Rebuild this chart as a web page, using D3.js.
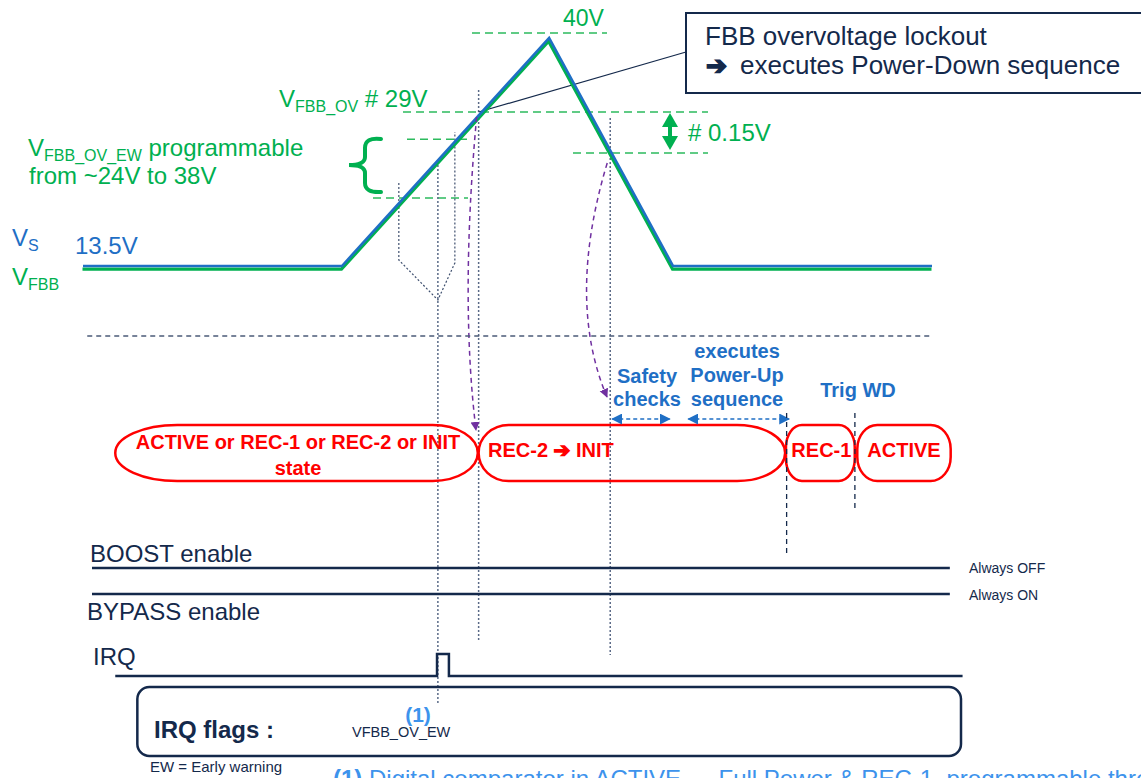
<!DOCTYPE html>
<html><head><meta charset="utf-8">
<script src="https://cdn.jsdelivr.net/npm/d3@7"></script>
<style>
body{margin:0;background:#fff;overflow:hidden}
svg{display:block}
text{font-family:"Liberation Sans",Arial,Helvetica,sans-serif}
</style>
</head><body>
<svg id="c" width="1141" height="778"></svg>
<script>
// ---------------- DATA ----------------
const waveTimes = [0, 30.5, 54.9, 69.5, 100];
const vsVolts   = [13.5, 13.5, 40, 13.5, 13.5];
const vfbbVolts = [13.5, 13.5, 40, 13.5, 13.5];

const levelNames = ["VS nominal", "EW low", "OV release", "EW high", "OV", "Peak"];
const levelVolts = [13.5, 24, 28.85, 28.9, 29, 40];

const eventNames = ["EW window start", "EW IRQ", "IRQ end", "EW window end", "OV trip",
                    "OV release", "Safety checks end", "Power-Up start", "REC-1 start", "ACTIVE start"];
const eventTimes = [37.2, 41.8, 43.1, 43.8, 46.6, 62.1, 69.1, 71.3, 82.7, 90.8];

const stateNames = ["ACTIVE or REC-1 or REC-2 or INIT", "REC-2 ➔ INIT", "REC-1", "ACTIVE"];
const stateStart = [3.8, 46.6, 82.8, 91.2];
const stateEnd   = [46.5, 82.7, 90.9, 102.2];

const signalNames = ["BOOST enable", "BYPASS enable", "IRQ"];
const signalNotes = ["Always OFF", "Always ON", ""];

// ---------------- SCALES ----------------
const svg = d3.select("#c");
const x = d3.scaleLinear().domain([0, 100]).range([83, 932]);
const lv = n => levelVolts[levelNames.indexOf(n)];
const yV = d3.scaleLinear()
  .domain([lv("VS nominal"), lv("EW low"), lv("OV release"), lv("OV"), lv("Peak")])
  .range([266, 198, 153, 112, 38]);
const ev = n => eventTimes[eventNames.indexOf(n)];

const NAVY = "#14294b", GREEN = "#00b050", GDASH = "#2dbb5e", BLUE = "#1f6fc5",
      RED = "#ff0000", PURPLE = "#7030a0", DOT = "#5a6a87", LBLUE = "#3d93ec";

// markers
const defs = svg.append("defs");
function marker(id, color, w, h) {
  defs.append("marker").attr("id", id).attr("viewBox", "0 0 10 10")
    .attr("refX", 9).attr("refY", 5).attr("markerUnits", "userSpaceOnUse")
    .attr("markerWidth", w).attr("markerHeight", h).attr("orient", "auto-start-reverse")
    .append("path").attr("d", "M0,0L10,5L0,10Z").attr("fill", color);
}
marker("mP", PURPLE, 9, 11);
marker("mB", BLUE, 11, 11);

// ---------------- VOLTAGE SECTION ----------------
const thr = [
  {n: "Peak", x0: 472, x1: 607, off: -5},
  {n: "OV", x0: 403, x1: 708, off: 0},
  {n: "EW high", x0: 407, x1: 468, off: 0},
  {n: "EW low", x0: 373, x1: 468, off: 0},
  {n: "OV release", x0: 573, x1: 708, off: 0}
];
svg.append("g").selectAll("line").data(thr).join("line")
  .attr("x1", d => d.x0).attr("x2", d => d.x1)
  .attr("y1", d => yV(lv(d.n)) + d.off).attr("y2", d => yV(lv(d.n)) + d.off)
  .attr("stroke", GDASH).attr("stroke-width", 1.5).attr("stroke-dasharray", "8,5");

const vlines = [
  {n: "EW IRQ", y0: 165, y1: 703},
  {n: "OV trip", y0: 90, y1: 642},
  {n: "OV release", y0: 118, y1: 655}
];
svg.append("g").selectAll("line").data(vlines).join("line")
  .attr("x1", d => x(ev(d.n))).attr("x2", d => x(ev(d.n)))
  .attr("y1", d => d.y0).attr("y2", d => d.y1)
  .attr("stroke", DOT).attr("stroke-width", 1.5).attr("stroke-dasharray", "2,2");

const apex = [x(ev("EW IRQ")), 300];
svg.append("path")
  .attr("d", `M${x(ev("EW window start"))},183 L${x(ev("EW window start"))},260 L${apex[0]},${apex[1]} L${x(ev("EW window end"))},263 L${x(ev("EW window end"))},132`)
  .attr("fill", "none").attr("stroke", "#3e4f6e").attr("stroke-width", 1.2).attr("stroke-dasharray", "2,2");

svg.append("line").attr("x1", x(ev("OV trip"))).attr("y1", yV(lv("OV")))
  .attr("x2", 686).attr("y2", 52).attr("stroke", NAVY).attr("stroke-width", 1.2);

// waveforms
const line = d3.line().x(d => x(d[0])).y(d => yV(d[1]));
svg.append("path").datum(waveTimes.map((t, i) => [t, vfbbVolts[i]]))
  .attr("d", line).attr("transform", "translate(-0.5,3.2)")
  .attr("fill", "none").attr("stroke", GREEN).attr("stroke-width", 3.2);
svg.append("path").datum(waveTimes.map((t, i) => [t, vsVolts[i]]))
  .attr("d", line)
  .attr("fill", "none").attr("stroke", BLUE).attr("stroke-width", 2.6);

// purple dashed curved arrows
svg.append("path").attr("d", `M${x(ev("OV trip")) - 2},117 Q460,300 476,430`)
  .attr("fill", "none").attr("stroke", PURPLE).attr("stroke-width", 1.5)
  .attr("stroke-dasharray", "5,4").attr("marker-end", "url(#mP)");
svg.append("path").attr("d", `M${x(ev("OV release")) - 3},163 Q566,300 607,397`)
  .attr("fill", "none").attr("stroke", PURPLE).attr("stroke-width", 1.5)
  .attr("stroke-dasharray", "5,4").attr("marker-end", "url(#mP)");

// green brace
svg.append("path")
  .attr("d", "M381,139 Q365,137 365,148 L365,157 Q365,165 349,165 Q365,165 365,173 L365,183 Q365,193 381,192")
  .attr("fill", "none").attr("stroke", GREEN).attr("stroke-width", 4).attr("stroke-linecap", "round");

// green hysteresis double arrow
const ax = 670, aTop = yV(lv("OV")) + 1, aBot = yV(lv("OV release")) - 3;
svg.append("line").attr("x1", ax).attr("x2", ax).attr("y1", aTop + 8).attr("y2", aBot - 8)
  .attr("stroke", GREEN).attr("stroke-width", 4);
svg.append("path").attr("d", `M${ax},${aTop} L${ax + 8},${aTop + 14} L${ax - 8},${aTop + 14}Z`).attr("fill", GREEN);
svg.append("path").attr("d", `M${ax},${aBot} L${ax + 8},${aBot - 14} L${ax - 8},${aBot - 14}Z`).attr("fill", GREEN);

function sub(x0, y0, main, subTxt, rest, color, fs, sfs) {
  const t = svg.append("text").attr("x", x0).attr("y", y0).attr("fill", color).attr("font-size", fs);
  t.append("tspan").text(main);
  t.append("tspan").attr("font-size", sfs).attr("dy", 5).text(subTxt);
  if (rest) t.append("tspan").attr("dy", -5).text(rest);
  return t;
}
svg.append("text").attr("x", 563).attr("y", 26).attr("fill", GREEN).attr("font-size", 23).text("40V");
sub(279, 107, "V", "FBB_OV", " # 29V", GREEN, 24, 16);
sub(28, 156, "V", "FBB_OV_EW", " programmable", GREEN, 24, 16);
svg.append("text").attr("x", 29).attr("y", 184).attr("fill", GREEN).attr("font-size", 24).text("from ~24V to 38V");
sub(12, 246, "V", "S", null, BLUE, 24, 16);
svg.append("text").attr("x", 75).attr("y", 254).attr("fill", BLUE).attr("font-size", 24).text("13.5V");
sub(12, 285, "V", "FBB", null, GREEN, 24, 16);
svg.append("text").attr("x", 688).attr("y", 141).attr("fill", GREEN).attr("font-size", 24).text("# 0.15V");

// box top right
svg.append("rect").attr("x", 686).attr("y", 13).attr("width", 480).attr("height", 80)
  .attr("fill", "#fff").attr("stroke", NAVY).attr("stroke-width", 2);
svg.append("text").attr("x", 705).attr("y", 45).attr("fill", NAVY).attr("font-size", 26).text("FBB overvoltage lockout");
const bt = svg.append("text").attr("x", 706).attr("y", 74).attr("fill", NAVY).attr("font-size", 26);
bt.append("tspan").attr("font-family", "DejaVu Sans").attr("font-weight", "bold").attr("font-size", 25)
  .attr("stroke", NAVY).attr("stroke-width", 1.6).text("➔");
bt.append("tspan").attr("x", 740).text("executes Power-Down sequence");

svg.append("line").attr("x1", x(0.5)).attr("x2", x(100)).attr("y1", 336).attr("y2", 336)
  .attr("stroke", "#4b5b78").attr("stroke-width", 1.3).attr("stroke-dasharray", "5,4");

// ---------------- STATE SECTION ----------------
function stadium(x0, x1, y0, y1, rl, rr) {
  const ry = (y1 - y0) / 2;
  return `M${x0 + rl},${y0} L${x1 - rr},${y0} A${rr},${ry} 0 0 1 ${x1 - rr},${y1} L${x0 + rl},${y1} A${rl},${ry} 0 0 1 ${x0 + rl},${y0}Z`;
}
const sy0 = 425, sy1 = 481;
svg.append("path").attr("d", stadium(x(stateStart[0]), x(stateEnd[0]), sy0, sy1, 62, 45))
  .attr("fill", "none").attr("stroke", RED).attr("stroke-width", 2.5);
svg.append("path").attr("d", stadium(x(stateStart[1]), x(stateEnd[1]), sy0, sy1, 30, 48))
  .attr("fill", "none").attr("stroke", RED).attr("stroke-width", 2.5);
svg.append("rect").attr("x", x(stateStart[2])).attr("y", sy0)
  .attr("width", x(stateEnd[2]) - x(stateStart[2])).attr("height", sy1 - sy0)
  .attr("rx", 16).attr("ry", 22).attr("fill", "none").attr("stroke", RED).attr("stroke-width", 2.5);
svg.append("rect").attr("x", x(stateStart[3])).attr("y", sy0)
  .attr("width", x(stateEnd[3]) - x(stateStart[3])).attr("height", sy1 - sy0)
  .attr("rx", 20).attr("ry", 24).attr("fill", "none").attr("stroke", RED).attr("stroke-width", 2.5);

const red = (tx, ty, s, anchor) => svg.append("text").attr("x", tx).attr("y", ty)
  .attr("fill", RED).attr("font-size", 20).attr("font-weight", "bold")
  .attr("text-anchor", anchor || "middle").text(s);
red(298, 449, stateNames[0]);
red(298, 475, "state");
const r2 = svg.append("text").attr("x", 488).attr("y", 457).attr("fill", RED)
  .attr("font-size", 20).attr("font-weight", "bold");
r2.append("tspan").text("REC-2 ");
r2.append("tspan").attr("font-family", "DejaVu Sans").attr("font-size", 20)
  .attr("stroke", RED).attr("stroke-width", 1.4).text("➔");
r2.append("tspan").text(" INIT");
red((x(stateStart[2]) + x(stateEnd[2])) / 2 + 1, 457, stateNames[2]);
red((x(stateStart[3]) + x(stateEnd[3])) / 2, 457, stateNames[3]);

const blue = (tx, ty, s) => svg.append("text").attr("x", tx).attr("y", ty)
  .attr("fill", BLUE).attr("font-size", 20).attr("font-weight", "bold")
  .attr("text-anchor", "middle").text(s);
blue(647, 383, "Safety"); blue(647, 406, "checks");
blue(737, 358, "executes"); blue(737, 382, "Power-Up"); blue(737, 406, "sequence");
blue(858, 397, "Trig WD");

[[x(ev("OV release")) + 2, x(ev("Safety checks end"))], [x(ev("Power-Up start")), x(ev("REC-1 start")) + 4]]
  .forEach(([a, b]) => svg.append("line").attr("x1", a).attr("x2", b).attr("y1", 419).attr("y2", 419)
    .attr("stroke", BLUE).attr("stroke-width", 1.5).attr("stroke-dasharray", "4,3")
    .attr("marker-start", "url(#mB)").attr("marker-end", "url(#mB)"));

svg.append("line").attr("x1", x(ev("REC-1 start")) + 1.5).attr("x2", x(ev("REC-1 start")) + 1.5)
  .attr("y1", 413).attr("y2", 555).attr("stroke", NAVY).attr("stroke-width", 1.3).attr("stroke-dasharray", "5,4");
svg.append("line").attr("x1", x(ev("ACTIVE start")) + 1).attr("x2", x(ev("ACTIVE start")) + 1)
  .attr("y1", 413).attr("y2", 512).attr("stroke", NAVY).attr("stroke-width", 1.3).attr("stroke-dasharray", "5,4");

// ---------------- SIGNAL SECTION ----------------
const sigY = [568, 594, 676];
svg.append("text").attr("x", 90).attr("y", 562).attr("fill", NAVY).attr("font-size", 24).text(signalNames[0]);
svg.append("text").attr("x", 87).attr("y", 620).attr("fill", NAVY).attr("font-size", 24).text(signalNames[1]);
svg.append("text").attr("x", 93).attr("y", 665).attr("fill", NAVY).attr("font-size", 24).text(signalNames[2]);
[0, 1].forEach(i => {
  svg.append("line").attr("x1", x(1.06)).attr("x2", x(102.1)).attr("y1", sigY[i]).attr("y2", sigY[i])
    .attr("stroke", NAVY).attr("stroke-width", 2.5);
  svg.append("text").attr("x", 969).attr("y", sigY[i] + (i === 0 ? 5 : 6)).attr("fill", NAVY)
    .attr("font-size", 14).text(signalNotes[i]);
});
const irqPts = [[3.8, 0], [ev("EW IRQ") - 0.1, 0], [ev("EW IRQ") - 0.1, 1], [ev("IRQ end"), 1], [ev("IRQ end"), 0], [103.6, 0]];
const yI = d3.scaleLinear().domain([0, 1]).range([sigY[2], 654]);
svg.append("path").datum(irqPts).attr("d", d3.line().x(d => x(d[0])).y(d => yI(d[1])))
  .attr("fill", "none").attr("stroke", NAVY).attr("stroke-width", 2.5);

svg.append("rect").attr("x", x(6.4)).attr("y", 687).attr("width", 961 - x(6.4)).attr("height", 69)
  .attr("rx", 12).attr("fill", "none").attr("stroke", NAVY).attr("stroke-width", 2.5);
svg.append("text").attr("x", 154).attr("y", 738).attr("fill", NAVY).attr("font-size", 24)
  .attr("font-weight", "bold").text("IRQ flags :");
svg.append("text").attr("x", 418).attr("y", 722).attr("fill", LBLUE).attr("font-size", 21)
  .attr("font-weight", "bold").attr("text-anchor", "middle").text("(1)");
svg.append("text").attr("x", 352).attr("y", 737).attr("fill", NAVY).attr("font-size", 14.5).text("VFBB_OV_EW");
svg.append("text").attr("x", 150).attr("y", 772).attr("fill", NAVY).attr("font-size", 15).text("EW = Early warning");
const note = svg.append("text").attr("x", 333).attr("y", 787).attr("fill", LBLUE).attr("font-size", 24);
note.append("tspan").attr("font-weight", "bold").text("(1)");
note.append("tspan").text(" Digital comparator in ACTIVE — Full Power & REC-1, programmable threshold");
</script>
</body></html>
